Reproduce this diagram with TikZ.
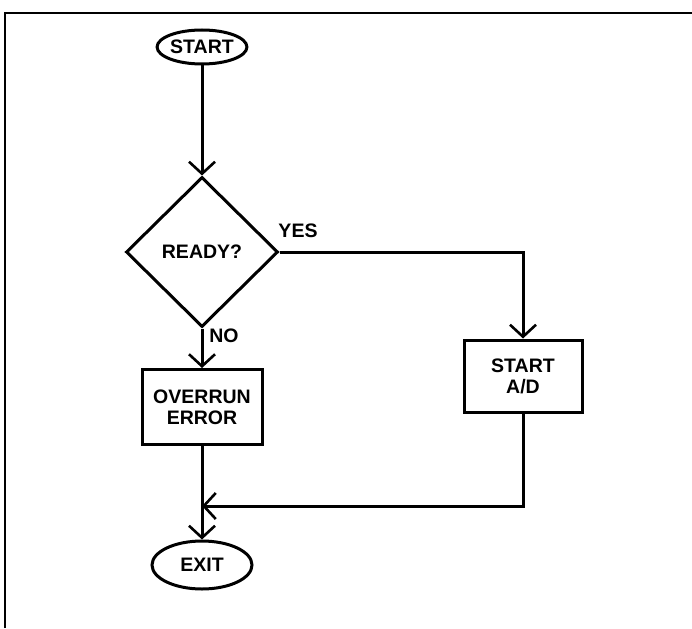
\documentclass[tikz,border=0pt]{standalone}
\usepackage{fontspec}
\setmainfont{Liberation Sans}
\usetikzlibrary{shapes.geometric,arrows.meta}
\begin{document}
\begin{tikzpicture}[x=1pt,y=-1pt,
  every node/.style={font=\fontsize{19.5}{21}\selectfont\bfseries},
  shp/.style={draw,line width=3pt,inner sep=0pt,align=center},
  oval/.style={shp,ellipse},
  box/.style={shp,rectangle},
  dia/.style={shp,diamond},
  conn/.style={line width=3pt},
  arr/.style={conn,-{Straight Barb[length=12pt,width=26pt,line width=2.6pt]}},
  lbl/.style={inner sep=0pt}]
\useasboundingbox (0,0) rectangle (692,628);
\draw[line width=2.6pt] (5,628) -- (5,13) -- (692,13);
\node[oval,minimum width=72pt,minimum height=34pt] (start) at (202,47) {START};
\node[dia,minimum width=152pt,minimum height=150pt] (ready) at (202,252) {READY?};
\node[box,minimum width=120pt,minimum height=75pt] (overrun) at (202,407) {OVERRUN\\ERROR};
\node[box,minimum width=118pt,minimum height=72pt] (startad) at (523,376) {START\\A/D};
\node[oval,minimum width=100pt,minimum height=48pt] (exit) at (202,565) {EXIT};
\coordinate (merge) at (202,506);
\draw[arr] (start.south) -- (ready.north);
\draw[arr] (ready.east) -| (startad.north);
\node[lbl] (yes) at (298,231) {YES};
\draw[arr] (ready.south) -- (overrun.north);
\node[lbl] (no) at (224,336) {NO};
\draw[arr] (overrun.south) -- (exit.north);
\draw[arr] (startad.south) |- (merge);
\end{tikzpicture}
\end{document}
